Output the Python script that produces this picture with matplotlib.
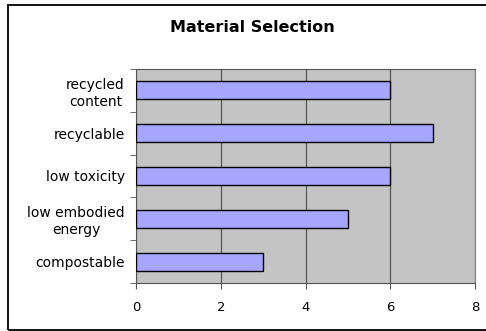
import matplotlib
matplotlib.use('Agg')
import matplotlib.pyplot as plt
from matplotlib.patches import Rectangle

categories = ['compostable', 'low embodied\nenergy', 'low toxicity', 'recyclable', 'recycled\ncontent']
values = [3, 5, 6, 7, 6]
xticks = [0, 2, 4, 6, 8]

W, H = 486, 331
fig = plt.figure(figsize=(W / 100, H / 100), dpi=100)
fig.patch.set_facecolor('white')

# outer chart border
fig.patches.append(Rectangle((8 / W, 1 - 330 / H), 1.2, 325 / H, transform=fig.transFigure,
                             fill=False, edgecolor='black', linewidth=1.3))

ax = fig.add_axes([136 / W, 1 - 283 / H, (475 - 136) / W, (283 - 69) / H])
ax.set_facecolor('#C4C4C4')
ax.barh(range(len(values)), values, height=0.42, color='#A6A6FF', edgecolor='black',
        linewidth=1.0, zorder=3)
ax.set_xlim(0, 8)
ax.set_ylim(-0.5, len(values) - 0.5)
ax.set_xticks(xticks)
ax.set_xticklabels([str(t) for t in xticks], fontsize=9.5)
ax.grid(axis='x', color='#555555', linewidth=0.9, zorder=1)

ax.set_yticks(range(len(values)))
ax.set_yticklabels(categories, fontsize=10, linespacing=1.25, multialignment='center')
ax.tick_params(axis='y', length=0, pad=8)
ax.set_yticks([i - 0.5 for i in range(len(values) + 1)], minor=True)
ax.tick_params(axis='y', which='minor', length=4, color='#555555')
ax.tick_params(axis='x', length=4, color='#555555', pad=9)

for side in ['top', 'left', 'bottom']:
    ax.spines[side].set_color('#555555')
ax.spines['right'].set_color('#808080')

fig.text(252 / W, 1 - 28 / H, 'Material Selection', ha='center', va='center',
         fontsize=11.5, fontweight='bold')

plt.savefig('out.png', dpi=100)
